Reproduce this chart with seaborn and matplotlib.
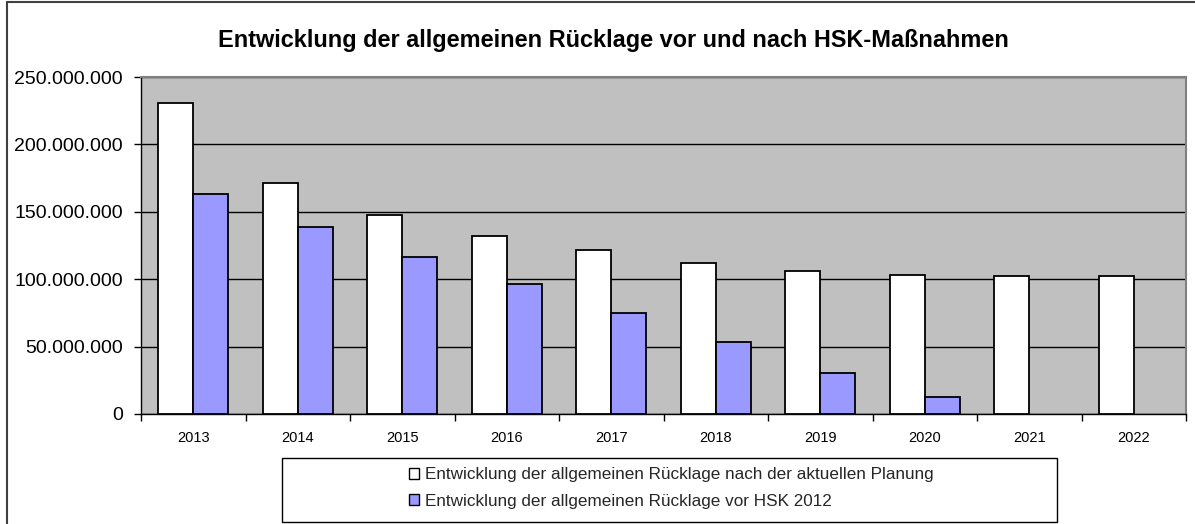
import numpy as np
import pandas as pd
import matplotlib
matplotlib.use("Agg")
import matplotlib.pyplot as plt
from matplotlib.patches import Rectangle, Patch
from matplotlib.lines import Line2D
from matplotlib.ticker import FuncFormatter, MultipleLocator, FixedLocator
import seaborn as sns

years = ["2013", "2014", "2015", "2016", "2017", "2018", "2019", "2020", "2021", "2022"]
series_names = [
    "Entwicklung der allgemeinen Rücklage nach der aktuellen Planung",
    "Entwicklung der allgemeinen Rücklage vor HSK 2012",
]
nach_planung = [230.7e6, 171.6e6, 147.8e6, 132.4e6, 121.5e6, 112.0e6, 105.9e6, 103.4e6, 102.2e6, 102.2e6]
vor_hsk = [163.4e6, 138.4e6, 116.5e6, 96.2e6, 74.9e6, 53.3e6, 30.5e6, 12.4e6, np.nan, np.nan]
colors = ["#FFFFFF", "#9999FF"]
title = "Entwicklung der allgemeinen Rücklage vor und nach HSK-Maßnahmen"

rows = []
for y, a, b in zip(years, nach_planung, vor_hsk):
    rows.append((y, series_names[0], a))
    if not np.isnan(b):
        rows.append((y, series_names[1], b))
df = pd.DataFrame(rows, columns=["Jahr", "Serie", "Wert"])

sns.set_theme(style="white")
plt.rcParams["font.family"] = ["Liberation Sans", "DejaVu Sans"]

W, H = 1195, 524
fig = plt.figure(figsize=(W / 100, H / 100), dpi=100)
fig.patch.set_facecolor("white")

def fx(px):
    return px / W

def fy(py):
    return 1 - py / H

ax = fig.add_axes([fx(141), fy(414), fx(1186) - fx(141), fy(77) - fy(414)])
sns.barplot(data=df, x="Jahr", y="Wert", hue="Serie", order=years, hue_order=series_names,
            palette=colors, saturation=1, width=0.67, gap=0, edgecolor="black", linewidth=1.3,
            errorbar=None, legend=False, ax=ax, zorder=3)

ax.set_facecolor("#C0C0C0")
ax.set_ylim(0, 250e6)
ax.set_xlim(-0.5, len(years) - 0.5)
ax.yaxis.set_major_locator(MultipleLocator(50e6))
ax.yaxis.set_major_formatter(FuncFormatter(lambda v, p: f"{v:,.0f}".replace(",", ".")))
ax.grid(axis="y", color="black", linewidth=1.0, zorder=0)
ax.grid(axis="x", visible=False)
ax.set_axisbelow(True)
ax.set_xlabel("")
ax.set_ylabel("")

ax.xaxis.set_minor_locator(FixedLocator(np.arange(-0.5, len(years), 1.0)))
ax.tick_params(axis="x", which="major", length=0, labelsize=10.5, pad=12, colors="black")
ax.tick_params(axis="x", which="minor", length=5, width=1, color="black", direction="out")
ax.tick_params(axis="y", which="major", length=5, width=1, color="black", direction="out",
               labelsize=14, pad=8, labelcolor="black")
ax.tick_params(bottom=True, left=True, which="both")

for s in ["left", "bottom"]:
    ax.spines[s].set_color("black")
    ax.spines[s].set_linewidth(1.0)
for s in ["top", "right"]:
    ax.spines[s].set_color("#808080")
    ax.spines[s].set_linewidth(1.5)

fig.text(fx(613), fy(40), title, ha="center", va="center", fontsize=16.9, fontweight="bold", color="black")

# outer chart border (left and top visible)
fig.add_artist(Line2D([fx(7), fx(7)], [fy(2), fy(524)], transform=fig.transFigure, color="#404040", linewidth=1.5))
fig.add_artist(Line2D([fx(7), fx(1195)], [fy(2), fy(2)], transform=fig.transFigure, color="#404040", linewidth=1.5))

# legend frame
fig.add_artist(Rectangle((fx(282), fy(522)), fx(1057) - fx(282), fy(458) - fy(522), transform=fig.transFigure,
                         facecolor="white", edgecolor="black", linewidth=1.0, zorder=1))
handles = [Patch(facecolor=c, edgecolor="black", linewidth=1.0) for c in colors]
leg = fig.legend(handles, series_names, loc="center left", bbox_to_anchor=(fx(409), fy(488)),
                 frameon=False, fontsize=12.35, handlelength=0.6, handleheight=0.6,
                 handletextpad=0.35, labelspacing=0.65, borderaxespad=0, borderpad=0)
leg.set_zorder(5)

fig.savefig("out.png", dpi=100)
